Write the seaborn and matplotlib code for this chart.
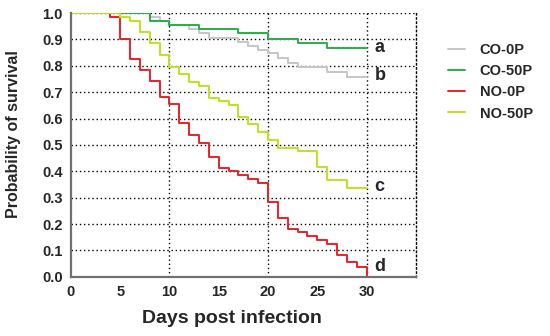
import numpy as np
import pandas as pd
import matplotlib
matplotlib.use('Agg')
import matplotlib.pyplot as plt
import seaborn as sns

# Kaplan-Meier step values (day -> survival)
co0p_days = [0, 8, 9, 10, 12, 13, 14, 17, 18, 19, 20, 21, 22, 23, 26, 28, 30]
co0p_surv = [1.0, 0.986, 0.971, 0.955, 0.94, 0.923, 0.905, 0.891, 0.875, 0.86,
             0.847, 0.828, 0.812, 0.794, 0.778, 0.757, 0.757]

co50p_days = [0, 8, 10, 13, 17, 20, 23, 26, 30]
co50p_surv = [1.0, 0.971, 0.955, 0.94, 0.923, 0.902, 0.885, 0.866, 0.866]

no0p_days = [0, 4, 5, 6, 7, 8, 9, 10, 11, 12, 13, 14, 15, 16, 17, 18, 19,
             20, 21, 22, 23, 24, 25, 26, 27, 28, 29, 30]
no0p_surv = [1.0, 0.987, 0.90, 0.826, 0.784, 0.742, 0.683, 0.655, 0.583, 0.538,
             0.508, 0.456, 0.412, 0.40, 0.385, 0.371, 0.357, 0.285, 0.224,
             0.183, 0.17, 0.155, 0.14, 0.124, 0.083, 0.058, 0.039, 0.0]

no50p_days = [0, 5, 6, 7, 8, 9, 10, 11, 12, 13, 14, 15, 16, 17, 18, 19, 20,
              21, 23, 25, 26, 28, 30]
no50p_surv = [1.0, 0.987, 0.97, 0.927, 0.885, 0.84, 0.797, 0.77, 0.74, 0.723,
              0.68, 0.667, 0.651, 0.606, 0.58, 0.548, 0.519, 0.49, 0.477,
              0.415, 0.367, 0.336, 0.336]

groups = ['CO-0P', 'CO-50P', 'NO-0P', 'NO-50P']
end_letters = ['b', 'a', 'd', 'c']
colors = ['#c6c6c6', '#2aae48', '#ec2027', '#bde31e']

frames = []
for g, d, s in zip(groups,
                   [co0p_days, co50p_days, no0p_days, no50p_days],
                   [co0p_surv, co50p_surv, no0p_surv, no50p_surv]):
    frames.append(pd.DataFrame({'day': d, 'surv': s, 'group': g}))
df = pd.concat(frames, ignore_index=True)

sns.set_style('white')
plt.rcParams['font.family'] = ['Liberation Sans', 'DejaVu Sans']
plt.rcParams['font.weight'] = 'bold'

fig = plt.figure(figsize=(5.5, 3.36), dpi=100)
ax = fig.add_axes([0.129, 0.176, 0.627, 0.785])

# dotted grid: every 0.1 on y, every 10 days on x
for yv in np.arange(0.1, 1.01, 0.1):
    ax.axhline(yv, color='black', ls=(0, (1, 2)), lw=1.0, zorder=0)
for xv in [10, 20, 30]:
    ax.axvline(xv, color='black', ls=(0, (1, 2)), lw=1.0, zorder=0)

sns.lineplot(data=df, x='day', y='surv', hue='group', hue_order=groups,
             palette=colors, drawstyle='steps-post', estimator=None,
             linewidth=1.4, ax=ax, legend=False)

# end-of-curve letters (the one at zero sits a bit above the axis)
for g, letter in zip(groups, end_letters):
    sub = df[df['group'] == g]
    yend = max(sub['surv'].iloc[-1], 0.035)
    ax.text(30.8, yend + 0.005, letter, fontsize=13, fontweight='bold',
            va='center', ha='left')

ax.set_xlim(0, 35)
ax.set_ylim(0, 1.0)
ax.set_xticks([0, 5, 10, 15, 20, 25, 30])
ax.set_yticks(np.round(np.arange(0, 1.01, 0.1), 1))
ax.set_yticklabels([f'{v:.1f}' for v in np.arange(0, 1.01, 0.1)])
ax.tick_params(axis='both', labelsize=10.5, length=4, width=1.2,
               color='#707070', direction='out', pad=2)
for lab in ax.get_xticklabels() + ax.get_yticklabels():
    lab.set_fontweight('bold')

for side in ['left', 'bottom']:
    ax.spines[side].set_color('#707070')
    ax.spines[side].set_linewidth(1.6)
ax.spines['top'].set_visible(False)
ax.spines['right'].set_color('black')
ax.spines['right'].set_linestyle((0, (1, 2)))
ax.spines['right'].set_linewidth(1.0)

ax.set_xlabel('Days post infection', fontsize=14, fontweight='bold')
ax.set_ylabel('Probability of survival', fontsize=11.5, fontweight='bold')
ax.xaxis.set_label_coords(0.467, -0.125)
ax.yaxis.set_label_coords(-0.145, 0.54)

handles = [plt.Line2D([0], [0], color=c, lw=1.4) for c in colors]
leg = fig.legend(handles, groups, loc='upper left', bbox_to_anchor=(0.79, 0.912),
                 frameon=False, handlelength=1.2, handletextpad=1.0,
                 labelspacing=0.5, prop={'weight': 'bold', 'size': 10.5})

fig.savefig('out.png', dpi=100)
plt.close(fig)
